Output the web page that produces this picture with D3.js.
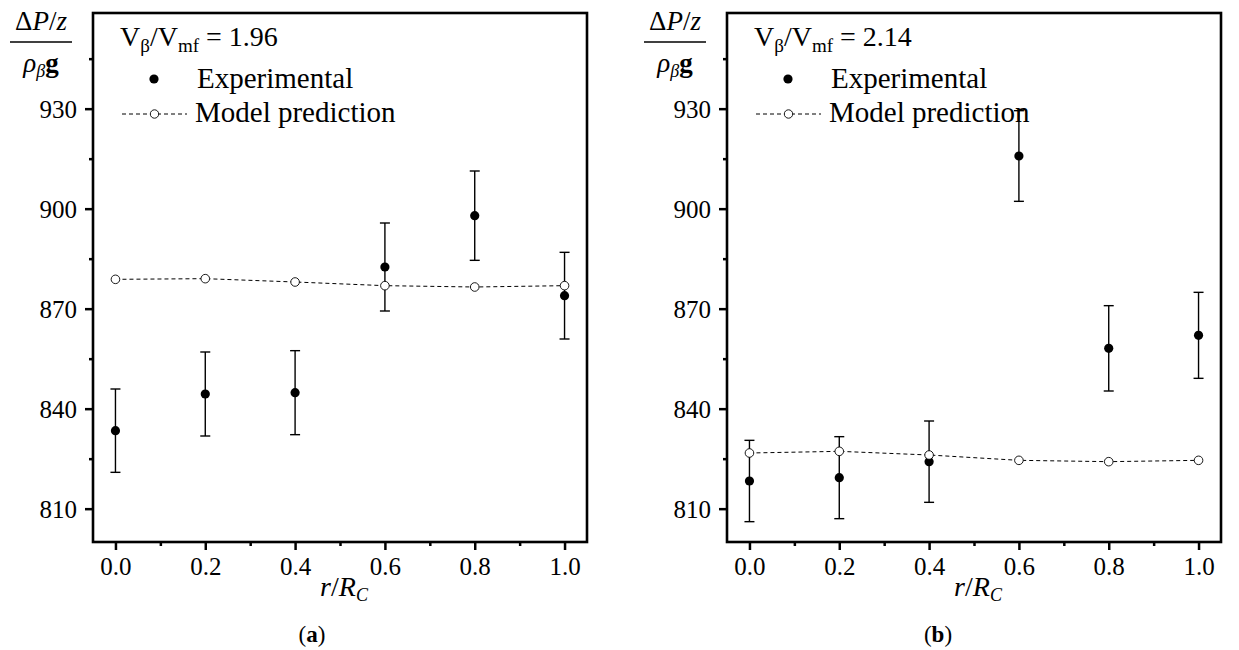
<!DOCTYPE html>
<html>
<head>
<meta charset="utf-8">
<script src="https://cdn.jsdelivr.net/npm/d3@7"></script>
<style>
  html, body { margin: 0; padding: 0; background: #fff; }
  svg { display: block; }
  svg text { font-family: "Liberation Serif", "Times New Roman", serif; fill: #000; }
</style>
</head>
<body>
<svg id="chart" width="1239" height="650"></svg>
<script>
// Radial positions r/Rc
const radialPos = [0.0, 0.2, 0.4, 0.6, 0.8, 1.0];

// Panel (a): Vβ/Vmf = 1.96
const expA = [833.4, 844.4, 844.8, 882.5, 897.9, 873.9];
const errA = [12.5, 12.6, 12.6, 13.2, 13.4, 13.0];
const modelA = [878.8, 879.0, 878.0, 876.9, 876.5, 876.9];

// Panel (b): Vβ/Vmf = 2.14
const expB = [818.3, 819.3, 824.1, 915.8, 858.1, 862.0];
const errB = [12.2, 12.3, 12.2, 13.6, 12.8, 12.9];
const modelB = [826.7, 827.2, 826.1, 824.5, 824.1, 824.5];

// Axis ticks
const xMajorTicks = [0.0, 0.2, 0.4, 0.6, 0.8, 1.0];
const xMinorTicks = [0.1, 0.3, 0.5, 0.7, 0.9];
const yMajorTicks = [810, 840, 870, 900, 930];
const yMinorTicks = [825, 855, 885, 915, 945];

const xDomain = [-0.05, 1.05];
const yDomain = [800, 958.7];

const SERIF = '"Liberation Serif", "Times New Roman", serif';

const svg = d3.select("#chart");
svg.append("rect").attr("width", 1239).attr("height", 650).attr("fill", "#fff");

function drawPanel(opts) {
  const { left, right, top, bottom, exp, err, model, ratio, tag, tagX } = opts;
  const x = d3.scaleLinear().domain(xDomain).range([left, right]);
  const y = d3.scaleLinear().domain(yDomain).range([bottom, top]);
  const g = svg.append("g");

  // x axis: major + minor ticks
  const xAxis = g.append("g").attr("transform", `translate(0,${bottom})`)
    .call(d3.axisBottom(x).tickValues(xMajorTicks).tickFormat(d3.format(".1f"))
      .tickSize(8).tickPadding(7));
  xAxis.append("g").call(d3.axisBottom(x).tickValues(xMinorTicks).tickFormat("").tickSize(4));
  // y axis
  const yAxis = g.append("g").attr("transform", `translate(${left},0)`)
    .call(d3.axisLeft(y).tickValues(yMajorTicks).tickFormat(d3.format("d"))
      .tickSize(8).tickPadding(8));
  yAxis.append("g").call(d3.axisLeft(y).tickValues(yMinorTicks).tickFormat("").tickSize(4));

  g.selectAll(".domain").remove();
  g.selectAll(".tick line").attr("stroke", "#000").attr("stroke-width", 2.5);
  xAxis.selectAll(".tick text").style("font-family", SERIF).style("font-size", "25px");
  yAxis.selectAll(".tick text").style("font-family", SERIF).style("font-size", "25px")
    .attr("dy", "0.35em");

  // frame
  g.append("rect").attr("x", left).attr("y", top)
    .attr("width", right - left).attr("height", bottom - top)
    .attr("fill", "none").attr("stroke", "#000").attr("stroke-width", 2.6);

  // legend
  const lx = left;
  const ratioText = g.append("text").attr("x", lx + 27).attr("y", 46).style("font-size", "28px");
  ratioText.append("tspan").text("V");
  ratioText.append("tspan").style("font-size", "19px").attr("dy", 6).text("β");
  ratioText.append("tspan").attr("dy", -6).text("/V");
  ratioText.append("tspan").style("font-size", "19px").attr("dy", 6).text("mf");
  ratioText.append("tspan").attr("dy", -6).text(" = " + ratio);

  g.append("circle").attr("cx", lx + 61).attr("cy", 79).attr("r", 4.6).attr("fill", "#000");
  g.append("text").attr("x", lx + 104).attr("y", 88).style("font-size", "29px").text("Experimental");

  g.append("line").attr("x1", lx + 29).attr("x2", lx + 94).attr("y1", 114).attr("y2", 114)
    .attr("stroke", "#000").attr("stroke-width", 1).attr("stroke-dasharray", "4,3");
  g.append("circle").attr("cx", lx + 61.5).attr("cy", 114).attr("r", 4.2)
    .attr("fill", "#fff").attr("stroke", "#000").attr("stroke-width", 0.9);
  g.append("text").attr("x", lx + 102).attr("y", 122).style("font-size", "29px").text("Model prediction");

  // experimental error bars and points
  const pts = radialPos.map((r, i) => ({ r, v: exp[i], e: err[i] }));
  const eb = g.append("g").attr("stroke", "#000").attr("stroke-width", 1.4);
  pts.forEach(d => {
    eb.append("line").attr("x1", x(d.r)).attr("x2", x(d.r))
      .attr("y1", y(d.v - d.e)).attr("y2", y(d.v + d.e));
    [d.v - d.e, d.v + d.e].forEach(v => {
      eb.append("line").attr("x1", x(d.r) - 5).attr("x2", x(d.r) + 5)
        .attr("y1", y(v)).attr("y2", y(v));
    });
  });
  g.append("g").selectAll("circle").data(pts).join("circle")
    .attr("cx", d => x(d.r)).attr("cy", d => y(d.v)).attr("r", 4.6).attr("fill", "#000");

  // model prediction dashed line with open markers
  const mpts = radialPos.map((r, i) => ({ r, v: model[i] }));
  g.append("path").datum(mpts)
    .attr("d", d3.line().x(d => x(d.r)).y(d => y(d.v)))
    .attr("fill", "none").attr("stroke", "#000").attr("stroke-width", 1)
    .attr("stroke-dasharray", "4,3");
  g.append("g").selectAll("circle").data(mpts).join("circle")
    .attr("cx", d => x(d.r)).attr("cy", d => y(d.v)).attr("r", 4.3)
    .attr("fill", "#fff").attr("stroke", "#000").attr("stroke-width", 0.9);

  // y label as a fraction: (ΔP/z) / (ρβ g)
  const fx = left - 52;
  const num = g.append("text").attr("x", fx).attr("y", 30).style("font-size", "27px")
    .attr("text-anchor", "middle");
  num.append("tspan").text("Δ");
  num.append("tspan").style("font-style", "italic").text("P");
  num.append("tspan").text("/");
  num.append("tspan").style("font-style", "italic").text("z");
  g.append("line").attr("x1", fx - 31).attr("x2", fx + 31).attr("y1", 42).attr("y2", 42)
    .attr("stroke", "#000").attr("stroke-width", 1.3);
  const den = g.append("text").attr("x", fx).attr("y", 72).style("font-size", "27px")
    .attr("text-anchor", "middle");
  den.append("tspan").style("font-style", "italic").text("ρ");
  den.append("tspan").style("font-style", "italic").style("font-size", "18px").attr("dy", 5).text("β");
  den.append("tspan").style("font-weight", "bold").attr("dy", -5).text("g");

  // x label r/Rc
  const xl = g.append("text").attr("x", x(0.5) + 4).attr("y", 596).style("font-size", "28px")
    .attr("text-anchor", "middle");
  xl.append("tspan").style("font-style", "italic").text("r");
  xl.append("tspan").text("/");
  xl.append("tspan").style("font-style", "italic").text("R");
  xl.append("tspan").style("font-style", "italic").style("font-size", "18px").attr("dy", 5).text("C");

  // panel tag
  const tg = g.append("text").attr("x", tagX).attr("y", 642)
    .style("font-size", "23px").attr("text-anchor", "middle");
  tg.append("tspan").text("(");
  tg.append("tspan").style("font-weight", "bold").text(tag);
  tg.append("tspan").text(")");
}

drawPanel({ left: 93, right: 587, top: 13, bottom: 542,
  exp: expA, err: errA, model: modelA, ratio: "1.96", tag: "a", tagX: 312 });
drawPanel({ left: 727, right: 1221, top: 13, bottom: 542,
  exp: expB, err: errB, model: modelB, ratio: "2.14", tag: "b", tagX: 938 });
</script>
</body>
</html>
